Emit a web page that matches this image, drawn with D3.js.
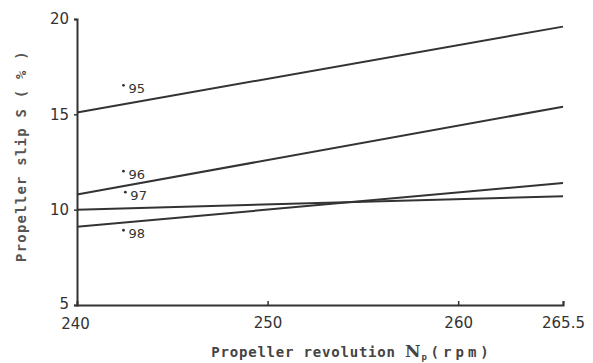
<!DOCTYPE html>
<html><head><meta charset="utf-8">
<script src="https://cdn.jsdelivr.net/npm/d3@7"></script>
<style>body{margin:0;background:#fff}svg{display:block}</style>
</head><body>
<script>
const xTicks = [240, 250, 260, 265.5];
const xTickLabels = ["240", "250", "260", "265.5"];
const yTicks = [5, 10, 15, 20];
const seriesNames = ["95", "96", "97", "98"];
const rpm = [240, 265.5];
const slip95 = [15.1, 19.6];
const slip96 = [10.8, 15.4];
const slip97 = [10.0, 10.7];
const slip98 = [9.1, 11.4];
const labelAt = [[242.7, 16.1], [242.7, 11.6], [242.8, 10.5], [242.7, 8.5]];

const W = 593, H = 363;
const svg = d3.select("body").append("svg").attr("width", W).attr("height", H);
const x = d3.scaleLinear().domain([240, 265.5]).range([77, 563]);
const y = d3.scaleLinear().domain([5, 20]).range([305, 19]);
const ink = "#333";

const xAxis = d3.axisBottom(x).tickValues(xTicks).tickFormat((d, i) => xTickLabels[i]).tickSize(-4).tickPadding(12);
const gx = svg.append("g").attr("transform", "translate(0,305)").call(xAxis);
gx.select(".domain").attr("stroke", ink).attr("stroke-width", 2);
gx.selectAll(".tick line").attr("stroke", ink).attr("stroke-width", 1.5);
gx.selectAll(".tick text").attr("font-family", "DejaVu Sans").attr("font-size", 15).attr("fill", ink);
gx.selectAll(".tick").filter(d => d === 240).select("text").attr("x", -2).attr("y", 13);
gx.selectAll(".tick").filter(d => d === 240).select("line").remove();

const yAxis = d3.axisLeft(y).tickValues(yTicks).tickSize(3).tickPadding(5);
const gy = svg.append("g").attr("transform", "translate(77,0)").call(yAxis);
gy.select(".domain").attr("stroke", ink).attr("stroke-width", 2);
gy.selectAll(".tick line").attr("stroke", ink).attr("stroke-width", 1.5);
gy.selectAll(".tick text").attr("font-family", "DejaVu Sans").attr("font-size", 15).attr("fill", ink);
gy.selectAll(".tick").filter(d => d === 5).select("text").attr("dy", "0.2em");

const series = [slip95, slip96, slip97, slip98];
const line = d3.line().x(d => x(d[0])).y(d => y(d[1]));
series.forEach(s => {
  svg.append("path").datum(rpm.map((r, i) => [r, s[i]]))
    .attr("d", line).attr("fill", "none").attr("stroke", ink).attr("stroke-width", 2);
});

seriesNames.forEach((n, i) => {
  const px = x(labelAt[i][0]), py = y(labelAt[i][1]);
  svg.append("circle").attr("cx", px - 5).attr("cy", py - 8).attr("r", 1.4).attr("fill", ink);
  svg.append("text").attr("x", px).attr("y", py).attr("font-family", "DejaVu Sans")
    .attr("font-size", 13).attr("fill", ink).text(n);
});

svg.append("text").attr("transform", "translate(26,156) rotate(-90)")
  .attr("text-anchor", "middle").attr("font-family", "DejaVu Sans Mono").attr("font-weight", "bold")
  .attr("font-size", 14).attr("letter-spacing", 1.2).attr("fill", "#555").text("Propeller slip S ( % )");

const xt = svg.append("text").attr("x", 352).attr("y", 357).attr("text-anchor", "middle")
  .attr("font-family", "DejaVu Sans Mono").attr("font-weight", "bold").attr("font-size", 14)
  .attr("letter-spacing", 0.8).attr("fill", "#444");
xt.append("tspan").text("Propeller revolution ");
xt.append("tspan").attr("font-family", "DejaVu Serif").attr("font-size", 17).text("N");
xt.append("tspan").attr("dy", 3).attr("font-size", 9).text("p");
xt.append("tspan").attr("dy", -3).attr("letter-spacing", 4).attr("dx", 3).text("(rpm)");
</script>
</body></html>
